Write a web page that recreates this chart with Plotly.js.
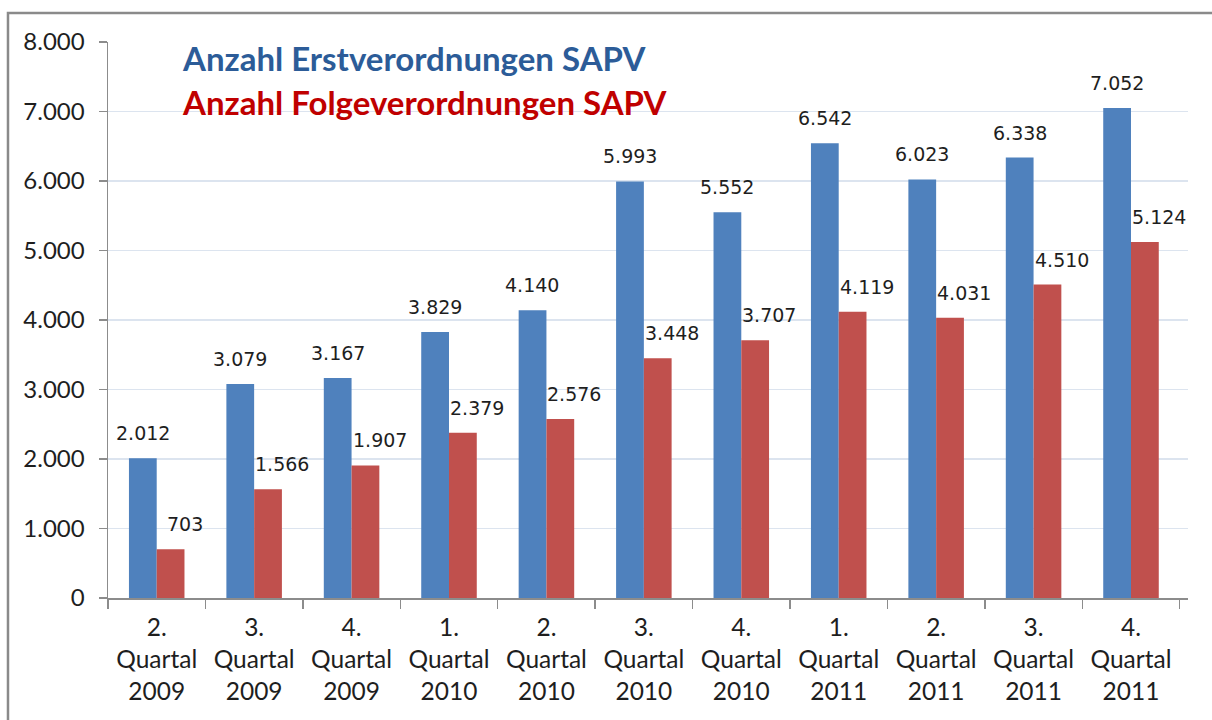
<!DOCTYPE html>
<html>
<head>
<meta charset="utf-8">
<script src="https://cdn.plot.ly/plotly-3.0.1.min.js"></script>
<style>
  html, body { margin: 0; padding: 0; background: #ffffff; }
  #chart { width: 1212px; height: 720px; }
</style>
</head>
<body>
<div id="chart"></div>
<script>
const categories = [
  "2.<br>Quartal<br>2009", "3.<br>Quartal<br>2009", "4.<br>Quartal<br>2009",
  "1.<br>Quartal<br>2010", "2.<br>Quartal<br>2010", "3.<br>Quartal<br>2010",
  "4.<br>Quartal<br>2010", "1.<br>Quartal<br>2011", "2.<br>Quartal<br>2011",
  "3.<br>Quartal<br>2011", "4.<br>Quartal<br>2011"
];
const erstverordnungen = [2012, 3079, 3167, 3829, 4140, 5993, 5552, 6542, 6023, 6338, 7052];
const folgeverordnungen = [703, 1566, 1907, 2379, 2576, 3448, 3707, 4119, 4031, 4510, 5124];
const seriesNames = ["Anzahl Erstverordnungen SAPV", "Anzahl Folgeverordnungen SAPV"];
const yTicks = [0, 1000, 2000, 3000, 4000, 5000, 6000, 7000, 8000];

const fmt = v => v >= 1000 ? Math.floor(v / 1000) + "." + String(v % 1000).padStart(3, "0") : String(v);

const traces = [
  { type: "bar", x: categories, y: erstverordnungen, name: seriesNames[0],
    marker: { color: "#4F81BD" }, hoverinfo: "skip" },
  { type: "bar", x: categories, y: folgeverordnungen, name: seriesNames[1],
    marker: { color: "#C0504D" }, hoverinfo: "skip" }
];

const labelFont = { family: "DejaVu Sans, Verdana, sans-serif", size: 19, color: "#1e1e1e" };
const annotations = [];
categories.forEach((c, i) => {
  annotations.push({ x: c, y: erstverordnungen[i], xref: "x", yref: "y", text: fmt(erstverordnungen[i]),
    showarrow: false, xshift: -14, yshift: 25, yanchor: "middle", font: labelFont });
  annotations.push({ x: c, y: folgeverordnungen[i], xref: "x", yref: "y", text: fmt(folgeverordnungen[i]),
    showarrow: false, xshift: 28, yshift: 25, yanchor: "middle", font: labelFont });
});
annotations.push({ xref: "paper", yref: "paper", x: 0.0667, y: 0.9712, xanchor: "left", yanchor: "middle",
  text: "<b>" + seriesNames[0] + "</b>", showarrow: false,
  font: { family: "Lato, 'Open Sans', sans-serif", size: 33, color: "#2C5C98" } });
annotations.push({ xref: "paper", yref: "paper", x: 0.0667, y: 0.8921, xanchor: "left", yanchor: "middle",
  text: "<b>" + seriesNames[1] + "</b>", showarrow: false,
  font: { family: "Lato, 'Open Sans', sans-serif", size: 33, color: "#C00000" } });

const layout = {
  width: 1212, height: 720,
  margin: { l: 108, r: 24, t: 42, b: 122 },
  paper_bgcolor: "#ffffff", plot_bgcolor: "#ffffff",
  separators: ",.",
  showlegend: false,
  barmode: "group", bargap: 0.43, bargroupgap: 0,
  font: { family: "Lato, 'Open Sans', sans-serif", size: 22, color: "#1e1e1e" },
  xaxis: {
    type: "category", tickson: "boundaries", ticks: "outside", ticklen: 9, tickcolor: "#8c8c8c", tickwidth: 1.5,
    showline: true, linecolor: "#8c8c8c", linewidth: 1.5, showgrid: false, zeroline: false,
    tickfont: { family: "Lato, 'Open Sans', sans-serif", size: 24.5, color: "#1e1e1e" },
    ticklabelstandoff: 7, fixedrange: true
  },
  yaxis: {
    range: [0, 8000], tickvals: yTicks, tickformat: ",d",
    ticks: "outside", ticklen: 8, tickcolor: "#8c8c8c", tickwidth: 1.5,
    showline: true, linecolor: "#8c8c8c", linewidth: 1.5,
    showgrid: true, gridcolor: "#DCE4EF", gridwidth: 1.2, zeroline: false,
    tickfont: { family: "Lato, 'Open Sans', sans-serif", size: 24, color: "#1e1e1e" },
    ticklabelstandoff: 9, fixedrange: true
  },
  annotations: annotations,
  shapes: [
    { type: "rect", xref: "paper", yref: "paper", x0: -0.0926, x1: 1.05, y0: -0.3, y1: 1.0522,
      line: { color: "#8a8a8a", width: 2.5 }, fillcolor: "rgba(0,0,0,0)", layer: "below" }
  ]
};

Plotly.newPlot("chart", traces, layout, { displayModeBar: false, staticPlot: true });
</script>
</body>
</html>
